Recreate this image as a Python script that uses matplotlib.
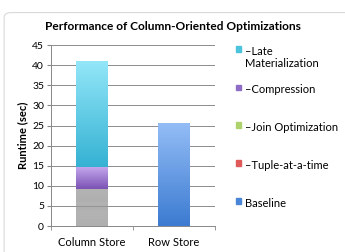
import numpy as np
import matplotlib
matplotlib.use("Agg")
import matplotlib.pyplot as plt
from matplotlib.patches import Rectangle, FancyBboxPatch
from matplotlib.colors import LinearSegmentedColormap

plt.rcParams['font.family'] = ['Lato', 'DejaVu Sans']

categories = ["Column Store", "Row Store"]
series = ["Baseline", "\u2013Tuple-at-a-time", "\u2013Join Optimization",
          "\u2013Compression", "\u2013Late\nMaterialization"]
# runtime added by each step (sec)
column_store = [4.0, 2.0, 3.3, 5.4, 26.3]
row_store = [25.7, 0, 0, 0, 0]

legend_colors = ["#4a86d8", "#e05a5a", "#aed36c", "#8e6cc4", "#4cc3dd"]
# gradient (top, bottom) for each drawn segment
grad_column = [("#9a9a9a", "#959595"), ("#9a9a9a", "#959595"), ("#9a9a9a", "#959595"),
               ("#c3a6ec", "#7b52b4"), ("#93e6f8", "#35b2d3")]
grad_row = [("#94bdf6", "#3c7bd1")]

fig = plt.figure(figsize=(3.45, 2.52), dpi=100)
fig.patches.append(FancyBboxPatch((0.012, -0.05), 1.1, 1.0, boxstyle="round,pad=0,rounding_size=0.02",
                                  transform=fig.transFigure, fill=False, ec="#d9d9d9", lw=0.8))
ax = fig.add_axes([0.148, 0.103, 0.475, 0.718])

x = np.arange(len(categories))
width = 0.39


def grad_bar(xc, bottom, height, top_c, bot_c, alpha=1.0):
    bars = ax.bar(xc, height, width, bottom=bottom, color="none", zorder=3)
    cmap = LinearSegmentedColormap.from_list("g", [bot_c, top_c])
    img = ax.imshow(np.linspace(0, 1, 100).reshape(-1, 1), cmap=cmap, origin="lower",
                    extent=[xc - width / 2, xc + width / 2, bottom, bottom + height],
                    aspect="auto", zorder=3, alpha=alpha)
    img.set_clip_path(bars[0])


bottom = 0
for val, (tc, bc) in zip(column_store, grad_column):
    alpha = 0.75 if tc == "#9a9a9a" else 1.0
    if val > 0:
        grad_bar(x[0], bottom, val, tc, bc, alpha)
    bottom += val

bottom = 0
for val, (tc, bc) in zip(row_store, grad_row):
    if val > 0:
        grad_bar(x[1], bottom, val, tc, bc)
    bottom += val

ax.set_xlim(-0.5, 1.5)
ax.set_ylim(0, 45)
ax.set_yticks(range(0, 46, 5))
ax.set_xticks(x)
ax.set_xticklabels(categories, fontsize=8)
ax.set_xticks([-0.5, 0.5, 1.5], minor=True)
ax.tick_params(axis="x", which="major", length=0, pad=8)
ax.tick_params(axis="x", which="minor", length=3, color="#888888")
ax.tick_params(axis="y", length=3, color="#888888", labelsize=7.5, pad=2)
ax.yaxis.grid(True, color="#8c8c8c", lw=0.7, zorder=1)
ax.set_axisbelow(True)
for s in ["top", "right"]:
    ax.spines[s].set_visible(False)
ax.spines["left"].set_color("#888888")
ax.spines["bottom"].set_color("#888888")
ax.spines["left"].set_linewidth(0.7)
ax.spines["bottom"].set_linewidth(0.7)
ax.set_ylabel("Runtime (sec)", fontsize=8, fontweight="bold", labelpad=3)

fig.text(0.502, 0.895, "Performance of Column-Oriented Optimizations", ha="center", va="center",
         fontsize=8.6, fontweight="bold")

# legend, top entry first
leg_y = [0.805, 0.653, 0.503, 0.353, 0.203]
for lab, col, yy in zip(series[::-1], legend_colors[::-1], leg_y):
    fig.patches.append(Rectangle((0.683, yy - 0.011), 0.016, 0.022, transform=fig.transFigure,
                                 color=col))
    fig.text(0.711, yy + 0.012, lab, ha="left", va="top", fontsize=8, linespacing=1.15)

fig.savefig("out.png", dpi=100)
